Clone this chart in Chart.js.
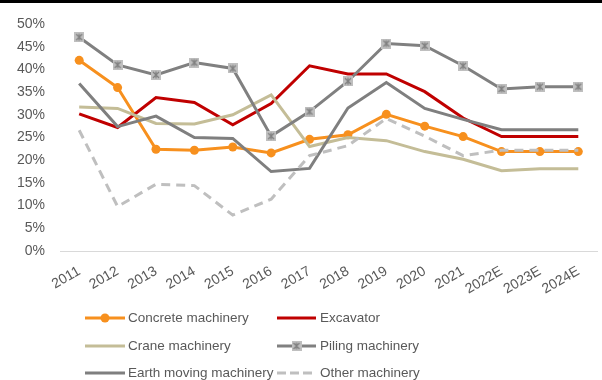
<!DOCTYPE html>
<html>
<head>
<meta charset="utf-8">
<script src="https://cdn.jsdelivr.net/npm/chart.js@4/dist/chart.umd.min.js"></script>
<style>
  html, body { margin: 0; padding: 0; background: #fff; }
  #wrap { position: relative; width: 602px; height: 380px; }
  #topbar { position: absolute; left: 0; top: 0; width: 602px; height: 3px; background: #000; z-index: 2; }
  canvas { display: block; }
</style>
</head>
<body>
<div id="wrap">
  <div id="topbar"></div>
  <canvas id="chart" width="602" height="380"></canvas>
</div>
<script>
// Categories and series (share of revenue, %)
const years = ['2011','2012','2013','2014','2015','2016','2017','2018','2019','2020','2021','2022E','2023E','2024E'];
const concrete  = [42.0, 36.0, 22.4, 22.2, 22.9, 21.6, 24.6, 25.6, 30.1, 27.5, 25.2, 21.9, 21.9, 21.9];
const excavator = [30.2, 27.2, 33.8, 32.7, 27.8, 32.5, 40.8, 39.0, 39.0, 35.1, 29.3, 25.2, 25.2, 25.2];
const crane     = [31.7, 31.4, 28.1, 28.0, 30.0, 34.4, 23.0, 25.0, 24.3, 21.9, 20.2, 17.7, 18.1, 18.1];
const piling    = [47.1, 41.0, 38.8, 41.5, 40.2, 25.3, 30.7, 37.4, 45.7, 45.2, 40.8, 35.7, 36.2, 36.2];
const earth     = [36.9, 27.4, 29.7, 25.0, 24.8, 17.5, 18.2, 31.5, 37.1, 31.4, 29.0, 26.7, 26.7, 26.7];
const other     = [26.6,  9.8, 14.7, 14.4,  7.9, 11.4, 21.0, 23.2, 29.2, 25.3, 21.0, 22.2, 22.2, 22.2];
const yTicks    = [0, 5, 10, 15, 20, 25, 30, 35, 40, 45, 50];

const FONT = '"Liberation Sans", Arial, sans-serif';
const TEXT = '#595959';

// Square marker with a cross for the piling series
function makePilingMarker(size) {
  const c = document.createElement('canvas');
  c.width = size; c.height = size;
  const g = c.getContext('2d');
  g.fillStyle = '#BFBFBF';
  g.fillRect(0, 0, size, size);
  g.strokeStyle = '#7F7F7F';
  g.lineWidth = 1.2;
  g.beginPath();
  g.moveTo(2, 2); g.lineTo(size - 2, size - 2);
  g.moveTo(size - 2, 2); g.lineTo(2, size - 2);
  g.moveTo(size / 2, 1.5); g.lineTo(size / 2, size - 1.5);
  g.stroke();
  return c;
}
const pilingMarker = makePilingMarker(10);

const series = [
  { label: 'Concrete machinery', data: concrete, color: '#F7901E', marker: 'circle', order: 5 },
  { label: 'Excavator', data: excavator, color: '#C00000', marker: null, order: 4 },
  { label: 'Crane machinery', data: crane, color: '#C4BD97', marker: null, order: 3 },
  { label: 'Piling machinery', data: piling, color: '#808080', marker: 'piling', order: 2 },
  { label: 'Earth moving machinery', data: earth, color: '#7F7F7F', marker: null, order: 1 },
  { label: 'Other machinery', data: other, color: '#BFBFBF', marker: null, dash: [9, 6], order: 0 }
];

const datasets = series.map(s => ({
  label: s.label,
  data: s.data,
  borderColor: s.color,
  backgroundColor: s.color,
  borderWidth: 3,
  borderDash: s.dash || [],
  tension: 0,
  fill: false,
  order: s.order,
  pointStyle: s.marker === 'piling' ? pilingMarker : 'circle',
  pointRadius: s.marker ? 4.5 : 0,
  pointHoverRadius: s.marker ? 4.5 : 0,
  pointBorderWidth: 0,
  pointBackgroundColor: s.color
}));

// Two-column legend drawn under the axis
const gridLegend = {
  id: 'gridLegend',
  afterDraw(chart) {
    const ctx = chart.ctx;
    const cols = [{ x0: 85, x1: 125, tx: 128 }, { x0: 277, x1: 316, tx: 320 }];
    const rows = [318, 346, 373];
    ctx.save();
    series.forEach((s, i) => {
      const col = cols[i % 2];
      const y = rows[Math.floor(i / 2)];
      ctx.strokeStyle = s.color;
      ctx.lineWidth = 3;
      ctx.setLineDash(s.dash ? [9, 4] : []);
      ctx.beginPath();
      ctx.moveTo(col.x0, y);
      ctx.lineTo(col.x1, y);
      ctx.stroke();
      ctx.setLineDash([]);
      const mx = (col.x0 + col.x1) / 2;
      if (s.marker === 'circle') {
        ctx.fillStyle = s.color;
        ctx.beginPath();
        ctx.arc(mx, y, 4.5, 0, Math.PI * 2);
        ctx.fill();
      } else if (s.marker === 'piling') {
        ctx.drawImage(pilingMarker, mx - 5, y - 5);
      }
      ctx.fillStyle = TEXT;
      ctx.font = '13.5px ' + FONT;
      ctx.textBaseline = 'middle';
      ctx.textAlign = 'left';
      ctx.fillText(s.label, col.tx, y);
    });
    ctx.restore();
  }
};

new Chart(document.getElementById('chart'), {
  type: 'line',
  data: { labels: years, datasets },
  options: {
    responsive: false,
    animation: false,
    layout: { padding: { top: 24, right: 0, bottom: 0, left: 0 } },
    plugins: { legend: { display: false }, tooltip: { enabled: false } },
    scales: {
      x: {
        offset: true,
        grid: { display: false, drawTicks: false },
        border: { display: true, color: '#D9D9D9', width: 1 },
        ticks: {
          color: TEXT,
          font: { family: FONT, size: 14 },
          minRotation: 30,
          maxRotation: 30,
          padding: 12,
          autoSkip: false
        },
        afterFit(scale) { scale.height = 129; }
      },
      y: {
        min: 0,
        max: 50,
        afterBuildTicks(scale) { scale.ticks = yTicks.map(v => ({ value: v })); },
        grid: { display: false, drawTicks: false },
        border: { display: false },
        ticks: {
          color: TEXT,
          font: { family: FONT, size: 14 },
          padding: 15,
          callback: v => v + '%'
        },
        afterFit(scale) { scale.width = 60; }
      }
    }
  },
  plugins: [gridLegend]
});
</script>
</body>
</html>
